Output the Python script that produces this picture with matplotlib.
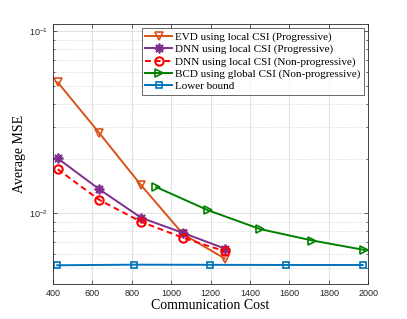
import numpy as np
import matplotlib
matplotlib.use("Agg")
import matplotlib.pyplot as plt
from matplotlib.ticker import LogLocator, NullFormatter, FixedLocator

# values
x_local = [424, 636, 848, 1060, 1272]
evd_prog = [0.0526, 0.0276, 0.01426, 0.0077, 0.00565]
dnn_prog = [0.0201, 0.01356, 0.00946, 0.00782, 0.00641]
dnn_nonprog = [0.0175, 0.01186, 0.00899, 0.00735, 0.0062]

x_global = [924, 1188, 1452, 1716, 1980]
bcd_nonprog = [0.01396, 0.0104, 0.0082, 0.0071, 0.0063]

x_bound = [422, 809, 1196, 1584, 1971]
lower_bound = [0.00519, 0.00523, 0.00522, 0.00521, 0.00521]

labels = ['EVD using local CSI (Progressive)',
          'DNN using local CSI (Progressive)',
          'DNN using local CSI (Non-progressive)',
          'BCD using global CSI (Non-progressive)',
          'Lower bound']

serif = 'Liberation Serif'
sans = 'Liberation Sans'

fig = plt.figure(figsize=(4.07, 3.19), dpi=100)
ax = fig.add_axes([0.13, 0.11, 0.775, 0.815])

lw = 1.4
ms = 6
ax.plot(x_local, evd_prog, color='#D95319', lw=lw, marker='v', ms=ms,
        mfc='none', mew=1.2, label=labels[0])
ax.plot(x_local, dnn_prog, color='#7E2F8E', lw=lw, marker=(8, 2, 0), ms=ms + 1,
        mfc='none', mew=1.3, label=labels[1])
ax.plot(x_local, dnn_nonprog, color='#FF0000', lw=lw, ls='--', dashes=(3, 2),
        marker='o', ms=ms, mfc='none', mew=1.5, label=labels[2])
ax.plot(x_global, bcd_nonprog, color='#008000', lw=lw, marker='>', ms=ms,
        mfc='none', mew=1.2, label=labels[3])
ax.plot(x_bound, lower_bound, color='#0072BD', lw=lw, marker='s', ms=5,
        mfc='none', mew=1.2, label=labels[4])

ax.set_yscale('log')
ax.set_xlim(400, 2000)
ax.set_ylim(0.0041, 0.11)
ax.xaxis.set_major_locator(FixedLocator(np.arange(400, 2001, 200)))
ax.yaxis.set_major_locator(LogLocator(base=10))
ax.yaxis.set_minor_locator(LogLocator(base=10, subs=np.arange(2, 10)))
ax.yaxis.set_minor_formatter(NullFormatter())

ax.grid(True, which='major', color='#e3e3e3', lw=0.8)
ax.grid(True, which='minor', axis='y', color='#c8c8c8', lw=0.6, ls=(0, (1, 2)))
ax.set_axisbelow(True)

for s in ax.spines.values():
    s.set_color('#262626')
    s.set_linewidth(0.6)
ax.tick_params(which='both', direction='in', top=True, right=True,
               colors='#262626', labelsize=6.5, width=0.5)
ax.tick_params(which='major', length=3)
ax.tick_params(which='minor', length=1.5)
for t in ax.get_xticklabels() + ax.get_yticklabels():
    t.set_family(sans)

ax.set_xlabel('Communication Cost', family=serif, fontsize=10, labelpad=1)
ax.set_ylabel('Average MSE', family=serif, fontsize=10, labelpad=2)

leg = ax.legend(loc='upper right', prop={'family': serif, 'size': 8.0},
                frameon=True, fancybox=False, edgecolor='#262626',
                handlelength=2.4, handletextpad=0.3, borderpad=0.3,
                labelspacing=0.22, borderaxespad=0.4)
leg.get_frame().set_linewidth(0.6)

fig.savefig('out.png', dpi=100)
